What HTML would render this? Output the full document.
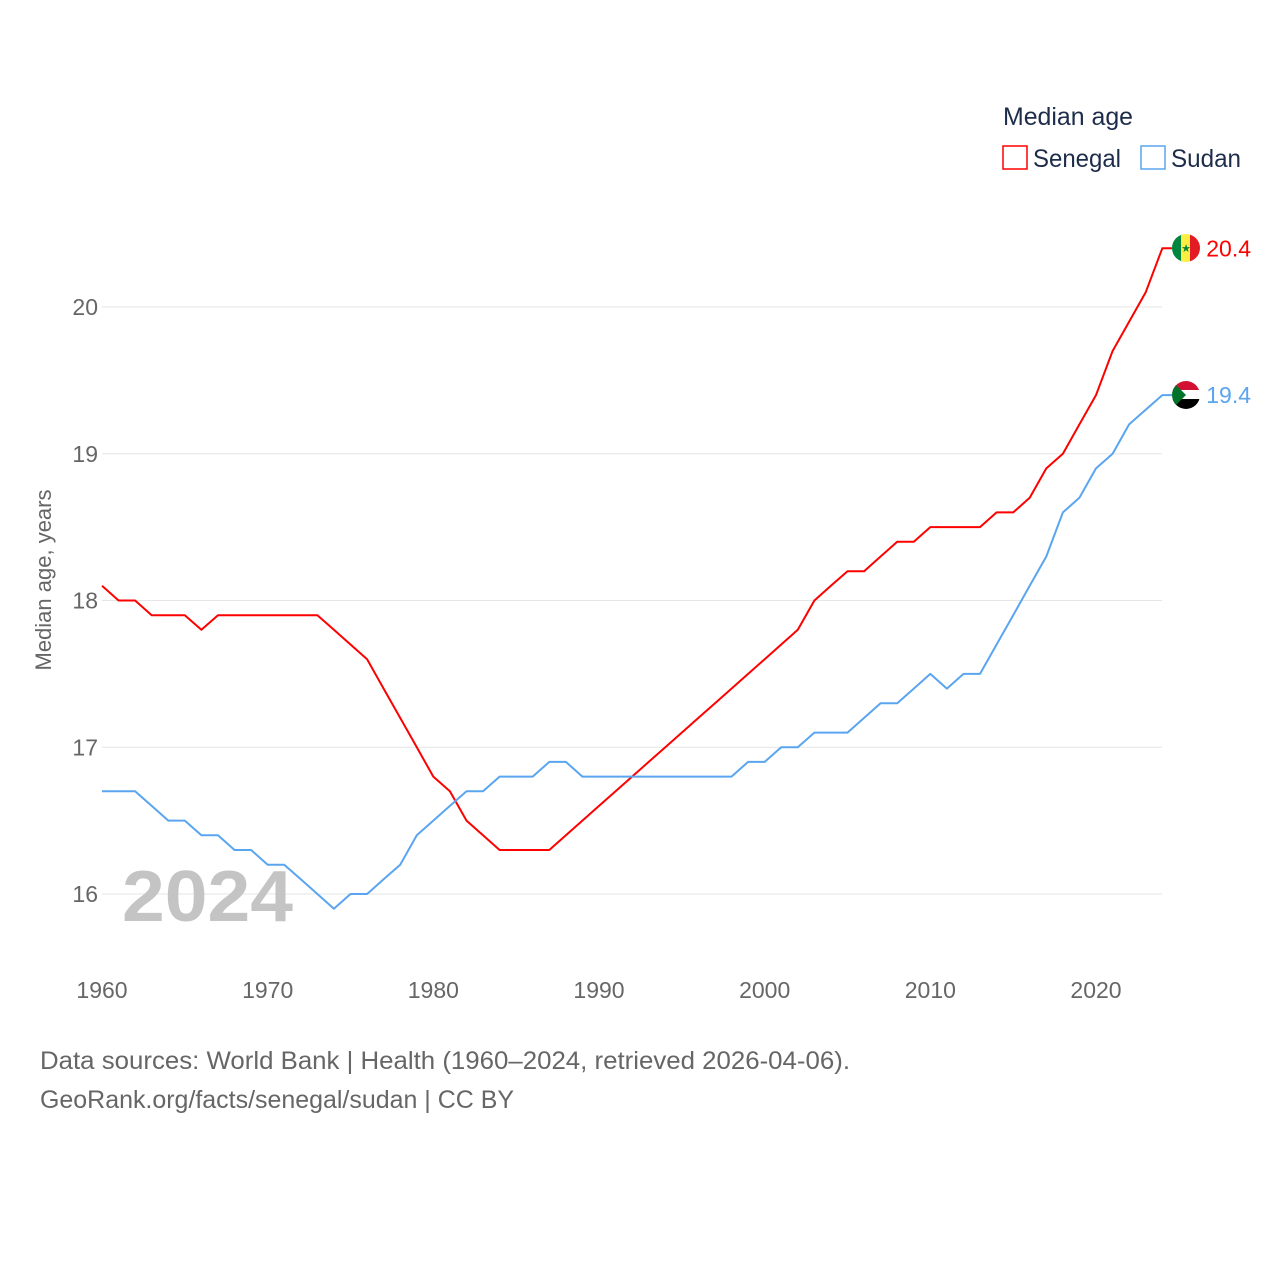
<!DOCTYPE html>
<html><head><meta charset="utf-8"><style>
html,body{margin:0;padding:0;background:#fff;}
svg{display:block;font-family:"Liberation Sans",sans-serif;}
</style></head><body>
<svg id="chart" width="1280" height="1280" viewBox="0 0 1280 1280">
<defs>
<clipPath id="c1"><circle cx="1186" cy="248" r="14"/></clipPath>
<clipPath id="c2"><circle cx="1186" cy="395" r="14"/></clipPath>
</defs>
<g id="grid"></g>
<g id="yticks"></g>
<g id="xticks"></g>
<text x="122" y="921" font-size="72" font-weight="bold" fill="#c4c4c4" textLength="171" lengthAdjust="spacingAndGlyphs">2024</text>
<text transform="translate(51,580) rotate(-90)" text-anchor="middle" font-size="22" fill="#666">Median age, years</text>
<g id="series"></g>
<g clip-path="url(#c1)">
<rect x="1172" y="234" width="10" height="28" fill="#00853f"/>
<rect x="1181" y="234" width="10" height="28" fill="#fdef42"/>
<rect x="1190" y="234" width="10" height="28" fill="#e31b23"/>
<text x="1186" y="252" font-size="11" text-anchor="middle" fill="#00853f">★</text>
</g>
<g clip-path="url(#c2)">
<rect x="1172" y="381" width="28" height="10" fill="#d21034"/>
<rect x="1172" y="390" width="28" height="10" fill="#fff"/>
<rect x="1172" y="399" width="28" height="10" fill="#000"/>
<polygon points="1172,381 1186,395 1172,409" fill="#007229"/>
</g>
<g>
<text x="1003" y="125" font-size="25" fill="#1d2c4a" textLength="130" lengthAdjust="spacingAndGlyphs">Median age</text>
<rect x="1003" y="146" width="24" height="23" fill="none" stroke="#f00" stroke-width="1.5"/>
<text x="1033" y="167" font-size="25" fill="#1d2c4a" textLength="88" lengthAdjust="spacingAndGlyphs">Senegal</text>
<rect x="1141" y="146" width="24" height="23" fill="none" stroke="#5aa5ef" stroke-width="1.5"/>
<text x="1171" y="167" font-size="25" fill="#1d2c4a" textLength="70" lengthAdjust="spacingAndGlyphs">Sudan</text>
</g>
<text x="40" y="1069" font-size="25" fill="#666" textLength="810" lengthAdjust="spacingAndGlyphs">Data sources: World Bank | Health (1960–2024, retrieved 2026-04-06).</text>
<text x="40" y="1108" font-size="25" fill="#666" textLength="474" lengthAdjust="spacingAndGlyphs">GeoRank.org/facts/senegal/sudan | CC BY</text>
</svg>
<script>
const years=[];for(let y=1960;y<=2024;y++)years.push(y);
const senegal=[18.1,18.0,18.0,17.9,17.9,17.9,17.8,17.9,17.9,17.9,17.9,17.9,17.9,17.9,17.8,17.7,17.6,17.4,17.2,17.0,16.8,16.7,16.5,16.4,16.3,16.3,16.3,16.3,16.4,16.5,16.6,16.7,16.8,16.9,17.0,17.1,17.2,17.3,17.4,17.5,17.6,17.7,17.8,18.0,18.1,18.2,18.2,18.3,18.4,18.4,18.5,18.5,18.5,18.5,18.6,18.6,18.7,18.9,19.0,19.2,19.4,19.7,19.9,20.1,20.4];
const sudan=[16.7,16.7,16.7,16.6,16.5,16.5,16.4,16.4,16.3,16.3,16.2,16.2,16.1,16.0,15.9,16.0,16.0,16.1,16.2,16.4,16.5,16.6,16.7,16.7,16.8,16.8,16.8,16.9,16.9,16.8,16.8,16.8,16.8,16.8,16.8,16.8,16.8,16.8,16.8,16.9,16.9,17.0,17.0,17.1,17.1,17.1,17.2,17.3,17.3,17.4,17.5,17.4,17.5,17.5,17.7,17.9,18.1,18.3,18.6,18.7,18.9,19.0,19.2,19.3,19.4];
const yTicks=[16,17,18,19,20];
const xTicks=[1960,1970,1980,1990,2000,2010,2020];
const NS="http://www.w3.org/2000/svg";
const xs=y=>102+(y-1960)*(1096-102)/60;
const ys=v=>894-(v-16)*146.75;
function mk(tag,attrs,parent,txt){const e=document.createElementNS(NS,tag);for(const k in attrs)e.setAttribute(k,attrs[k]);if(txt!==undefined)e.textContent=txt;parent.appendChild(e);return e;}
const grid=document.getElementById('grid'),yt=document.getElementById('yticks'),xt=document.getElementById('xticks'),ser=document.getElementById('series');
yTicks.forEach(v=>{
 const l=mk('line',{x1:102,x2:1162,y1:ys(v),y2:ys(v),stroke:'#e6e6e6','stroke-width':1},grid);
 
 
 const t=mk('text',{x:98,y:ys(v)+8,'text-anchor':'end','font-size':23,fill:'#666'},yt,String(v));
 
 
});
xTicks.forEach(v=>{
 const t=mk('text',{x:xs(v),y:998,'text-anchor':'middle','font-size':23,fill:'#666'},xt,String(v));
 
 
});
function line(data,color,name){
 const last=data[data.length-1],lx=xs(years[years.length-1]),ly=ys(last);
 const d=data.map((v,i)=>(i?'L':'M')+xs(years[i]).toFixed(1)+' '+ys(v).toFixed(1)).join(' ')+' L'+(lx+10)+' '+ly.toFixed(1);
 const p=mk('path',{d:d,fill:'none',stroke:color,'stroke-width':2,'stroke-linejoin':'round'},ser);
 
 
 const t=mk('text',{x:lx+44,y:ly+8,'font-size':23,fill:color},ser,last.toFixed(1));
 
 
}
line(senegal,'#f00','senegal');
line(sudan,'#5aa5ef','sudan');
</script>
</body></html>
